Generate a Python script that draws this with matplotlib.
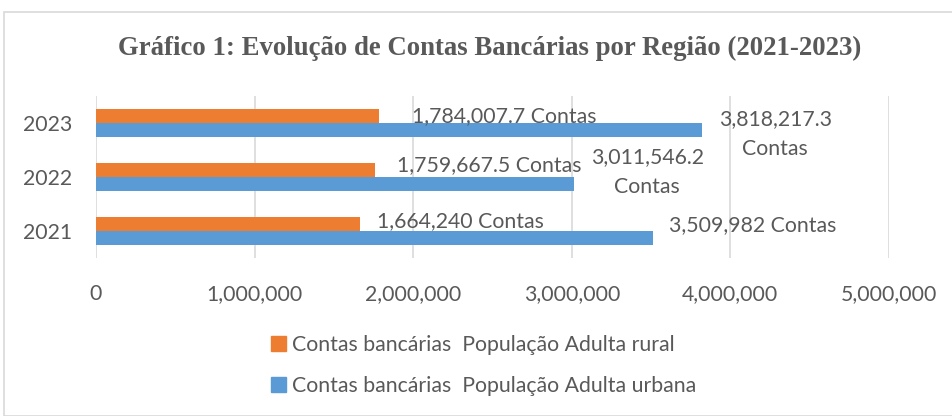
import matplotlib.pyplot as plt
import matplotlib.patches as mpatches
from matplotlib.ticker import FuncFormatter
import numpy as np

anos = ["2021", "2022", "2023"]
rural = [1664240, 1759667.5, 1784007.7]
urbana = [3509982, 3011546.2, 3818217.3]
rotulos_rural = ["1,664,240 Contas", "1,759,667.5 Contas", "1,784,007.7 Contas"]
rotulos_urbana = ["3,509,982 Contas", "3,011,546.2\nContas", "3,818,217.3\nContas"]
nome_rural = "Contas bancárias  População Adulta rural"
nome_urbana = "Contas bancárias  População Adulta urbana"

cor_rural = "#ED7D31"
cor_urbana = "#5B9BD5"
cinza = "#595959"
fonte = "Lato"
fs = 15.3

fig = plt.figure(figsize=(9.52, 4.16), dpi=100)
ax = fig.add_axes([96/952, 1 - 258/416, (889 - 96)/952, 162/416])

y = np.arange(len(anos))
h = 0.26
ax.barh(y + h/2, rural, height=h, color=cor_rural, zorder=3)
ax.barh(y - h/2, urbana, height=h, color=cor_urbana, zorder=3)

# rótulos dos dados (offsets em pontos, como no original)
desl_rural = [(12, 2), (16, 3.6), (24, 0)]
for i, (v, t) in enumerate(zip(rural, rotulos_rural)):
    ax.annotate(t, (v, y[i] + h/2), xytext=desl_rural[i], textcoords="offset points",
                ha="left", va="center", fontsize=fs, color=cinza, family=fonte)
desl_urb = [(11.5, 9.5), (53, 8.5), (53, -3)]
alin = ["left", "center", "center"]
for i, (v, t) in enumerate(zip(urbana, rotulos_urbana)):
    ax.annotate(t, (v, y[i] - h/2), xytext=desl_urb[i], textcoords="offset points",
                ha=alin[i], va="center", fontsize=fs, color=cinza, family=fonte,
                multialignment="center", linespacing=1.62)

ax.set_xlim(0, 5000000)
ax.set_ylim(-0.5, 2.5)
ax.set_xticks(np.arange(0, 5000001, 1000000))
ax.xaxis.set_major_formatter(FuncFormatter(lambda v, p: f"{v:,.0f}"))
ax.set_yticks(y)
ax.set_yticklabels(anos)
ax.grid(axis="x", color="#D9D9D9", linewidth=1.2, zorder=0)
for s in ax.spines.values():
    s.set_visible(False)
ax.tick_params(length=0, labelsize=fs, labelcolor=cinza)
ax.tick_params(axis="x", pad=19)
ax.tick_params(axis="y", pad=17)
for lbl in ax.get_xticklabels() + ax.get_yticklabels():
    lbl.set_family(fonte)

fig.text(490/952, 1 - 48/416, "Gráfico 1: Evolução de Contas Bancárias por Região (2021-2023)",
         ha="center", va="center", fontsize=19.3, fontweight="bold", color=cinza,
         family="Liberation Serif")

handles = [mpatches.Patch(color=cor_rural, label=nome_rural),
           mpatches.Patch(color=cor_urbana, label=nome_urbana)]
leg = fig.legend(handles=handles, loc="upper left", bbox_to_anchor=(271/952, 1 - 335/416),
                 frameon=False, prop={"family": fonte, "size": fs}, labelcolor=cinza,
                 handlelength=0.7, handleheight=0.7, handletextpad=0.3, labelspacing=1.0,
                 borderaxespad=0, borderpad=0)

fig.patches.append(mpatches.Rectangle((4/952, 0), 1, 1 - 12/416, transform=fig.transFigure,
                                      fill=False, edgecolor="#D9D9D9", linewidth=1.2))

fig.savefig("out.png", dpi=100)
